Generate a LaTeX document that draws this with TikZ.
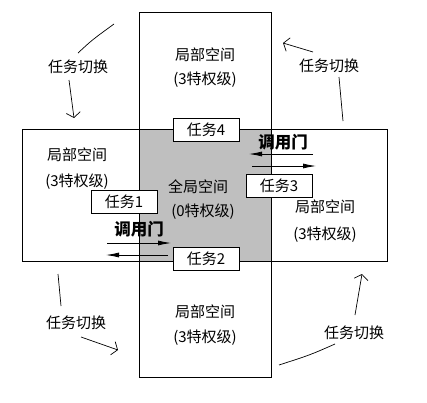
\documentclass[tikz,border=0pt]{standalone}
\usepackage{fontspec}
\setmainfont{Noto Sans CJK SC}
\usetikzlibrary{arrows.meta}
\begin{document}
\begin{tikzpicture}[x=1pt,y=-1pt,
  txt/.style={font=\fontsize{15}{17}\selectfont, inner sep=0pt},
  region/.style={draw, line width=0.8pt},
  task/.style={draw, fill=white, line width=0.8pt, minimum width=66pt, minimum height=23pt, inner sep=0pt, font=\fontsize{15}{17}\selectfont},
  gate/.style={font=\fontsize{16.5}{18}\selectfont\bfseries, inner sep=0pt},
  gatearrow/.style={line width=0.8pt, -{Latex[length=13pt,width=5pt]}},
  hand/.style={line width=0.7pt},
  handarrow/.style={hand, -{Straight Barb[length=5pt,width=14pt]}}
]
\useasboundingbox (0,0) rectangle (427,402);
% shared global space
\fill[black!25] (139,129) rectangle (271,261);
\draw[region] (139,12) rectangle (271,377);
\draw[region] (22,129) rectangle (387,261);

% space labels
\node[txt] (topA) at (205,55) {局部空间};
\node[txt] (topB) at (205,80) {(3特权级)};
\node[txt] (leftA) at (77,155) {局部空间};
\node[txt] (leftB) at (77,182) {(3特权级)};
\node[txt] (midA) at (198,187) {全局空间};
\node[txt] (midB) at (203,212) {(0特权级)};
\node[txt] (rightA) at (325,207) {局部空间};
\node[txt] (rightB) at (325,235) {(3特权级)};
\node[txt] (botA) at (205,312) {局部空间};
\node[txt] (botB) at (205,338) {(3特权级)};

% tasks
\node[task] (t4) at (206,129.5) {任务4};
\node[task] (t1) at (124,201.5) {任务1};
\node[task] (t2) at (206,259) {任务2};
\node[task] (t3) at (279,185.5) {任务3};

% call gates
\node[gate] (g1) at (283,142) {调用门};
\coordinate (g1a) at (313,154); \coordinate (g1b) at (249,154);
\coordinate (g1c) at (252,166); \coordinate (g1d) at (316,166);
\draw[gatearrow] (g1a) -- (g1b);
\draw[gatearrow] (g1c) -- (g1d);

\node[gate] (g2) at (139,229) {调用门};
\coordinate (g2a) at (107,243); \coordinate (g2b) at (171,243);
\coordinate (g2c) at (168,255); \coordinate (g2d) at (106,255);
\draw[gatearrow] (g2a) -- (g2b);
\draw[gatearrow] (g2c) -- (g2d);

% task switch labels
\node[txt] (s1) at (78,67) {任务切换};
\node[txt] (s2) at (329,66) {任务切换};
\node[txt] (s3) at (76,323) {任务切换};
\node[txt] (s4) at (354,333) {任务切换};

% hand-drawn strokes
\coordinate (h1a) at (78,53); \coordinate (h1b) at (114,24);
\coordinate (h1c) at (69,80); \coordinate (h1d) at (74,118);
\draw[hand] (h1a) .. controls (92,40) .. (h1b);
\draw[handarrow] (h1c) -- (h1d);

\coordinate (h2a) at (313,52); \coordinate (h2b) at (283,43);
\coordinate (h2c) at (339,77); \coordinate (h2d) at (343,121);
\draw[handarrow] (h2a) -- (h2b);
\draw[hand] (h2c) -- (h2d);

\coordinate (h3a) at (58,274); \coordinate (h3b) at (61,306);
\coordinate (h3c) at (81,337); \coordinate (h3d) at (118,350);
\draw[hand] (h3a) -- (h3b);
\draw[handarrow] (h3c) -- (h3d);

\coordinate (h4a) at (279,365); \coordinate (h4b) at (335,344);
\coordinate (h4c) at (355,315); \coordinate (h4d) at (362,274);
\draw[hand] (h4a) .. controls (310,355) .. (h4b);
\draw[handarrow] (h4c) -- (h4d);
\end{tikzpicture}
\end{document}
